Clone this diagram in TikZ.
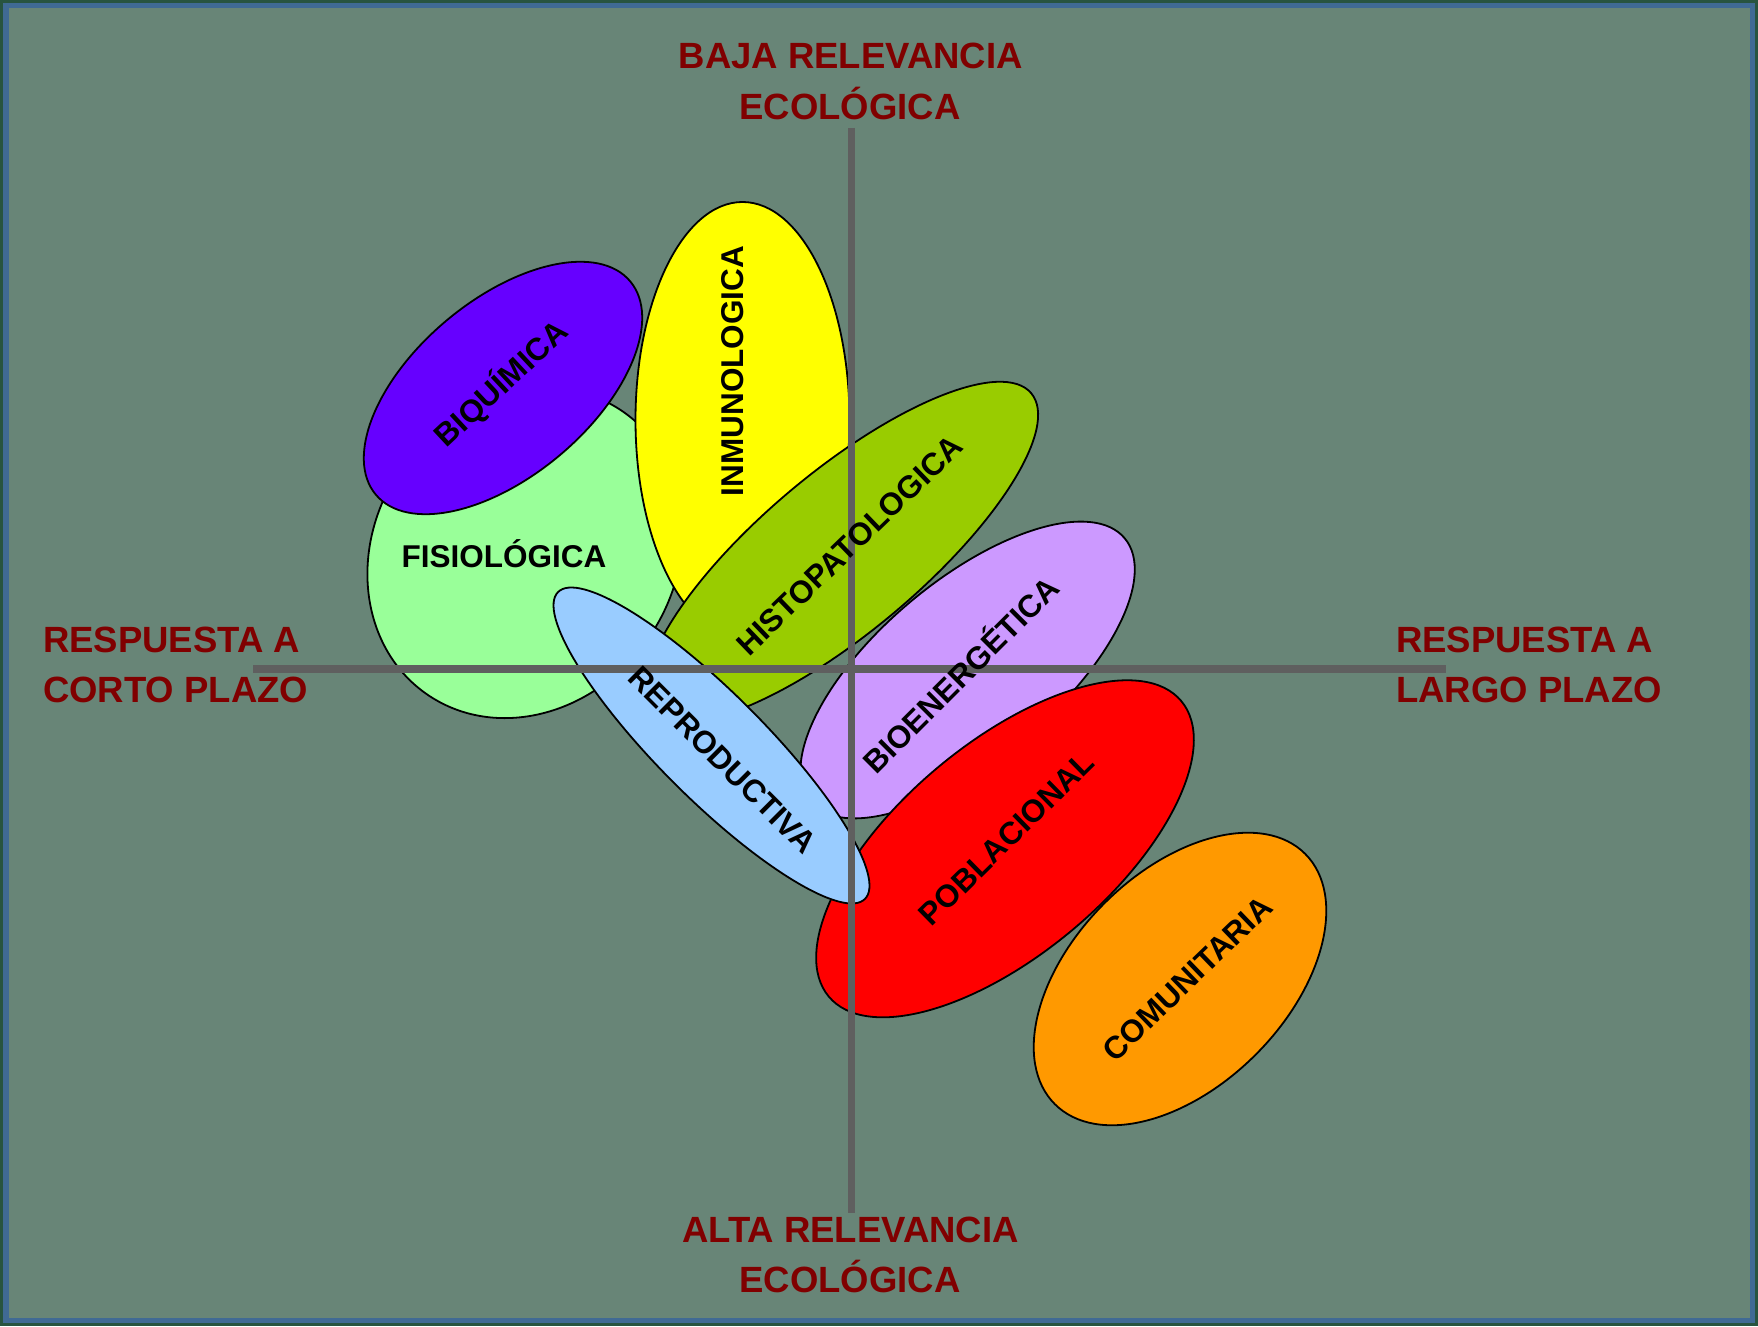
\documentclass[tikz,border=0pt]{standalone}
\usepackage{fontspec}
\setmainfont{Liberation Sans}
\usetikzlibrary{shapes.geometric}
\definecolor{bgc}{RGB}{104,133,119}
\definecolor{bdark}{RGB}{40,84,64}
\definecolor{bblue}{RGB}{64,106,148}
\definecolor{lblred}{RGB}{128,0,0}
\definecolor{axc}{RGB}{95,95,95}
\definecolor{cfis}{RGB}{153,255,153}
\definecolor{cbiq}{RGB}{102,0,255}
\definecolor{cinm}{RGB}{255,255,0}
\definecolor{chis}{RGB}{153,204,0}
\definecolor{cbio}{RGB}{204,153,255}
\definecolor{cpob}{RGB}{255,0,0}
\definecolor{crep}{RGB}{153,204,255}
\definecolor{ccom}{RGB}{255,153,0}
\begin{document}
\begin{tikzpicture}[x=1pt,y=1pt,
  blob/.style={ellipse, draw=black, line width=1.8pt, inner sep=0pt, outer sep=0pt},
  lbl/.style={font=\fontsize{31.5}{36}\selectfont\bfseries, text=black, inner sep=0pt, text height=22.6pt, text depth=0pt},
  axlbl/.style={font=\fontsize{36.5}{44}\selectfont\bfseries, text=lblred, inner sep=0pt},
  axisline/.style={draw=axc, line width=7.5pt}]
\useasboundingbox (0,0) rectangle (1758,1326);
\fill[bdark] (0,0) rectangle (1758,1326);
\fill[bblue] (3,3) rectangle (1755,1323);
\fill[bgc] (8.5,8.5) rectangle (1749.5,1317.5);

% ellipses
\node[blob, fill=cfis, minimum width=344pt, minimum height=300pt, rotate=55] (fis) at (525,773) {};
\node[blob, fill=cbiq, minimum width=332pt, minimum height=176pt, rotate=40] (biq) at (503,938) {};
\node[blob, fill=cinm, minimum width=214pt, minimum height=436pt] (inm) at (742.5,906) {};
\node[blob, fill=chis, minimum width=494pt, minimum height=160pt, rotate=40] (his) at (842,774) {};
\node[blob, fill=cbio, minimum width=410pt, minimum height=178pt, rotate=40] (bio) at (967.6,656) {};
\node[blob, fill=cpob, minimum width=460pt, minimum height=211pt, rotate=40] (pob) at (1005,477.2) {};
\node[blob, fill=crep, minimum width=434pt, minimum height=106pt, rotate=-45] (rep) at (711.5,580.5) {};
\node[blob, fill=ccom, minimum width=354pt, minimum height=214pt, rotate=45] (com) at (1180,347) {};

% axes
\coordinate (vtop) at (851.5,1198);
\coordinate (vbot) at (851.5,113);
\coordinate (hleft) at (253,657);
\coordinate (hright) at (1446,657);
\draw[axisline] (vtop) -- (vbot);
\draw[axisline] (hleft) -- (hright);

% ellipse labels
\node[lbl] (fisT) at (504,769.3) {FISIOLÓGICA};
\node[lbl, rotate=43] (biqT) at (500.7,942.7) {BIQUÍMICA};
\node[lbl, rotate=90] (inmT) at (732.5,955) {INMUNOLOGICA};
\node[lbl, rotate=44] (hisT) at (849.2,781) {HISTOPATOLOGICA};
\node[lbl, rotate=45] (bioT) at (961,651) {BIOENERGÉTICA};
\node[lbl, rotate=44.5] (pobT) at (1006,488) {POBLACIONAL};
\node[lbl, rotate=-45] (repT) at (722.9,566.4) {REPRODUCTIVA};
\node[lbl, rotate=44] (comT) at (1187,347.7) {COMUNITARIA};

% axis labels
\node[axlbl, anchor=base] (top1) at (850.8,1257.7) {BAJA RELEVANCIA};
\node[axlbl, anchor=base] (top2) at (850,1206.7) {ECOLÓGICA};
\node[axlbl, anchor=base] (bot1) at (850.5,84) {ALTA RELEVANCIA};
\node[axlbl, anchor=base] (bot2) at (850,33.4) {ECOLÓGICA};
\node[axlbl, anchor=base west] (lef1) at (43,673) {RESPUESTA A};
\node[axlbl, anchor=base west] (lef2) at (43,623) {CORTO PLAZO};
\node[axlbl, anchor=base west] (rig1) at (1396,673) {RESPUESTA A};
\node[axlbl, anchor=base west] (rig2) at (1396,623) {LARGO PLAZO};
\end{tikzpicture}
\end{document}
